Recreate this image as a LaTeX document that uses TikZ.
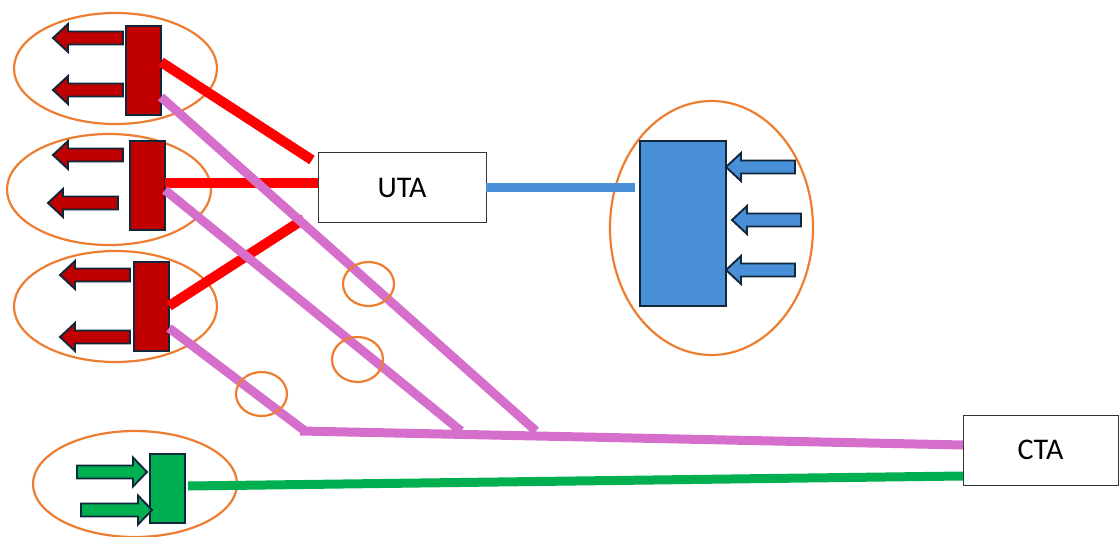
\documentclass[tikz,border=0pt]{standalone}
\usepackage{fontspec}
\setmainfont{Carlito}
\definecolor{orng}{HTML}{ED7D31}
\definecolor{darkred}{HTML}{C00000}
\definecolor{outl}{HTML}{10263A}
\definecolor{bblue}{HTML}{4A90D9}
\definecolor{ggreen}{HTML}{00B050}
\definecolor{pink}{HTML}{D66FCB}
\begin{document}
\begin{tikzpicture}[x=1pt,y=-1pt,
  ring/.style={draw=orng,line width=2.2pt},
  bar/.style={draw=outl,line width=1.8pt,inner sep=0pt,outer sep=0pt},
  arr/.style={draw=outl,line width=1.9pt,line join=miter},
  box/.style={draw=black!80,line width=1pt,fill=white,inner sep=0pt,outer sep=0pt,font=\fontsize{30}{34}\selectfont},
  redline/.style={draw=red,line width=10pt},
  pinkline/.style={draw=pink,line width=9pt},
  blueline/.style={draw=bblue,line width=9pt},
  greenline/.style={draw=ggreen,line width=9pt}]
\useasboundingbox (0,0) rectangle (1119,537);
% left-pointing arrow: tip x, y, right end x
\newcommand{\larr}[4]{\filldraw[arr,fill=#4] (#1,#2) -- ++(15,-14) -- ++(0,7.5) -- (#3,#2-6.5) -- (#3,#2+6.5) -- (#1+15,#2+6.5) -- ++(0,7.5) -- cycle;}
\newcommand{\rarr}[4]{\filldraw[arr,fill=#4] (#1,#2) -- ++(-14,-14.5) -- ++(0,8) -- (#3,#2-6.5) -- (#3,#2+6.5) -- (#1-14,#2+6.5) -- ++(0,8) -- cycle;}

% rings
\draw[ring] (115.5,68.5) ellipse [x radius=101.5, y radius=55.5];
\draw[ring] (109,189.5) ellipse [x radius=102, y radius=55.5];
\draw[ring] (115.5,306.5) ellipse [x radius=101.5, y radius=55.5];
\draw[ring] (135,484) ellipse [x radius=102, y radius=53];
\draw[ring] (711.5,228) ellipse [x radius=101.5, y radius=127];

% bars
\node[bar,fill=darkred,minimum width=35pt,minimum height=89pt] (b1) at (143.5,70.5) {};
\node[bar,fill=darkred,minimum width=35pt,minimum height=89pt] (b2) at (147.5,185.5) {};
\node[bar,fill=darkred,minimum width=35pt,minimum height=89pt] (b3) at (151.5,306.5) {};
\node[bar,fill=ggreen,minimum width=35pt,minimum height=69pt] (g1) at (167.5,488.5) {};
\node[bar,fill=bblue,minimum width=86pt,minimum height=165pt] (bl) at (683,223.5) {};

% arrows
\larr{53}{38}{123}{darkred}
\larr{53}{90}{123}{darkred}
\larr{53}{155}{123}{darkred}
\larr{48}{203}{118}{darkred}
\larr{60}{275}{130}{darkred}
\larr{60}{337}{130}{darkred}
\rarr{147}{472}{77}{ggreen}
\rarr{152}{510}{81}{ggreen}
\larr{726}{167}{795}{bblue}
\larr{732}{220}{801}{bblue}
\larr{726}{270}{795}{bblue}

% boxes
\node[box,minimum width=168pt,minimum height=70pt] (uta) at (402,188) {UTA};
\node[box,minimum width=155pt,minimum height=70pt] (cta) at (1040.5,450) {CTA};

% endpoints
\coordinate (r1s) at (161,62);
\coordinate (r1e) at (312,160);
\coordinate (r3s) at (169,306);
\coordinate (r3e) at (304,219);
\coordinate (p1s) at (161,97);
\coordinate (p1e) at (536,431);
\coordinate (p2s) at (165,190);
\coordinate (p2e) at (461,431);
\coordinate (p3s) at (169,328);
\coordinate (p3e) at (305,431);
\coordinate (ph) at (300,431);
\coordinate (blin) at (635,187.5);

% connectors
\draw[redline] (r1s) -- (r1e);
\draw[redline] (b2.east |- 0,183) -- (uta.west |- 0,183);
\draw[redline] (r3s) -- (r3e);
\draw[pinkline] (p1s) -- (p1e);
\draw[pinkline] (p2s) -- (p2e);
\draw[pinkline] (p3s) -- (p3e);
\draw[pinkline] (ph) -- (cta.west |- 0,445);
\draw[blueline] (uta.east |- 0,187.5) -- (blin);
\draw[greenline] (188,486) -- (cta.west |- 0,476);

% small rings
\draw[ring] (368.5,284) ellipse [x radius=25.5, y radius=22];
\draw[ring] (357.5,359.5) ellipse [x radius=25.5, y radius=22.5];
\draw[ring] (261.5,394) ellipse [x radius=25.5, y radius=22];
\end{tikzpicture}
\end{document}
